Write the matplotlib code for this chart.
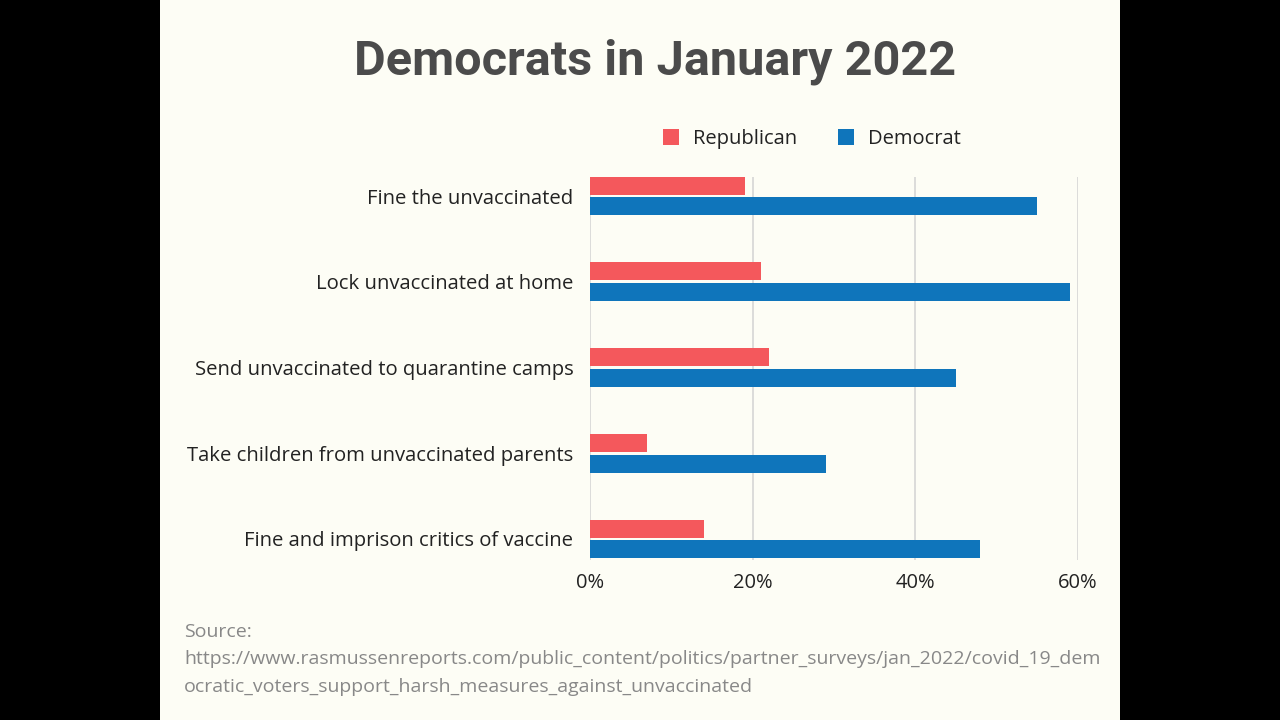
import matplotlib
matplotlib.use("Agg")
import matplotlib.pyplot as plt
from matplotlib.patches import Rectangle
import numpy as np

categories = ["Fine the unvaccinated", "Lock unvaccinated at home",
              "Send unvaccinated to quarantine camps",
              "Take children from unvaccinated parents",
              "Fine and imprison critics of vaccine"]
republican = [19, 21, 22, 7, 14]
democrat = [55, 59, 45, 29, 48]
xticks = [0, 20, 40, 60]
xticklabels = ["0%", "20%", "40%", "60%"]
title = "Democrats in January 2022"
source_lines = ["Source:",
                "https://www.rasmussenreports.com/public_content/politics/partner_surveys/jan_2022/covid_19_dem",
                "ocratic_voters_support_harsh_measures_against_unvaccinated"]

RED = "#f4585c"
BLUE = "#0f75bb"
BG = "#fdfdf5"
W, H = 1280, 720

fig = plt.figure(figsize=(12.8, 7.2), dpi=100, facecolor="black")
fig.patches.append(Rectangle((160 / W, 0), 960 / W, 1, transform=fig.transFigure,
                             facecolor=BG, edgecolor="none", zorder=-10))

ax = fig.add_axes([590 / W, 1 - 560 / H, (1078 - 590) / W, (560 - 177) / H])
ax.set_zorder(5)
ax.set_facecolor("none")
y = np.arange(len(categories))
h = 0.21
off = 0.12
ax.barh(y - off, republican, height=h, color=RED, zorder=3, label="Republican")
ax.barh(y + off, democrat, height=h, color=BLUE, zorder=3, label="Democrat")
ax.set_xlim(0, 60)
ax.set_ylim(4.245, -0.222)
ax.set_xticks(xticks)
ax.set_xticklabels(xticklabels, fontsize=14.5, color="#222222", family="Open Sans")
ax.set_yticks(y)
ax.set_yticklabels(categories, fontsize=14.6, color="#222222", family="Open Sans")
ax.tick_params(length=0, pad=12, axis="y")
ax.tick_params(length=0, pad=9, axis="x")
for s in ax.spines.values():
    s.set_visible(False)
ax.set_axisbelow(True)
ax.grid(axis="x", color="#d2d2d2", linewidth=1.1, zorder=0)
ax.grid(axis="y", visible=False)

fig.text(655 / W, 1 - 62 / H, title, ha="center", va="center", fontsize=35,
         fontweight="bold", color="#4b4b4b", family="Roboto")

leg = fig.legend(handles=ax.get_legend_handles_labels()[0],
                 labels=["Republican", "Democrat"], loc="center",
                 bbox_to_anchor=(812 / W, 1 - 139 / H), ncol=2, frameon=False,
                 prop={"family": "Open Sans", "size": 14.5}, handlelength=0.8,
                 handleheight=0.8, columnspacing=2.0, handletextpad=0.7)
for t in leg.get_texts():
    t.set_color("#222222")

for i, line in enumerate(source_lines):
    fig.text(184 / W, 1 - (632 + 27.5 * i) / H, line, ha="left", va="center",
             fontsize=14.0, color="#888888", family="Open Sans")

fig.savefig("out.png", dpi=100, facecolor="black")
